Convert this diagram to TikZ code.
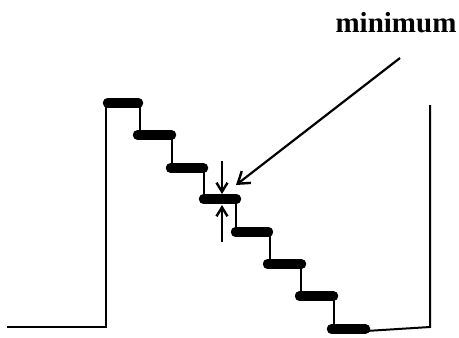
\documentclass[tikz,border=0pt]{standalone}
\usepackage{fontspec}
\setmainfont{Liberation Serif}
\usetikzlibrary{arrows.meta}
\begin{document}
\begin{tikzpicture}[x=1pt,y=-1pt,
  wire/.style={line width=2pt},
  bar/.style={line width=9.5pt,line cap=round},
  gap/.style={line width=2.4pt,-{Straight Barb[length=9pt,width=11pt,line width=2.4pt]}},
  pointer/.style={line width=2.2pt,-{Straight Barb[length=11pt,width=15pt,line width=2.4pt]}}]
\useasboundingbox (0,0) rectangle (459,338);
% outline
\draw[wire] (7,327) -- (106,327) -- (106,103);
\draw[wire] (140,103) -- (140,135);
\draw[wire] (172,135) -- (172,168);
\draw[wire] (204,168) -- (204,199);
\draw[wire] (236,199) -- (236,232);
\draw[wire] (270,232) -- (270,264);
\draw[wire] (301,264) -- (301,296);
\draw[wire] (334,296) -- (334,329);
\draw[wire] (366,331) -- (430,327) -- (430,105);
% bars
\foreach \a/\b/\y in {103/143/103,133/176/135,166/208/168,199/241/199,231/273/232,263/306/264,295/338/296,327/370/329}
  \draw[bar] (\a+4.5,\y) -- (\b-4.5,\y);
% gap arrows
\coordinate (dtop) at (222,161);
\coordinate (dtip) at (222,194);
\coordinate (ubot) at (222,242);
\coordinate (utip) at (222,205);
\draw[gap] (dtop) -- (dtip);
\draw[gap] (ubot) -- (utip);
% label
\node[font=\bfseries\fontsize{29}{32}\selectfont,anchor=base,inner sep=0pt] (lab) at (396,32) {minimum};
\coordinate (pstart) at (400,58);
\coordinate (ptip) at (236,185);
\draw[pointer] (pstart) -- (ptip);
\end{tikzpicture}
\end{document}
